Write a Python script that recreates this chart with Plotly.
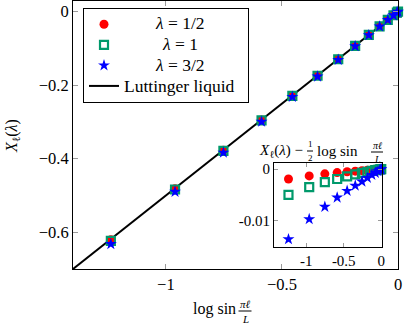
import plotly.graph_objects as go

# ---- data ----
log_sin = [-1.2369, -0.9605, -0.7521, -0.5878, -0.4551, -0.3466, -0.2575,
           -0.1846, -0.1257, -0.0792, -0.0440, -0.0194, -0.0048, 0.0]

X_half = [-0.6204, -0.4816, -0.3770, -0.2946, -0.2281, -0.1737, -0.1290,
          -0.0925, -0.0630, -0.0397, -0.0221, -0.0097, -0.0024, 0.0]
X_one = [-0.6235, -0.4838, -0.3786, -0.2958, -0.2290, -0.1743, -0.1295,
         -0.0928, -0.0632, -0.0398, -0.0221, -0.0098, -0.0024, 0.0]
X_three_half = [-0.6321, -0.4900, -0.3834, -0.2994, -0.2318, -0.1765, -0.1312,
                -0.0940, -0.0640, -0.0403, -0.0224, -0.0099, -0.0025, 0.0]

dev_half = [-0.0019, -0.0013, -0.0009, -0.00066, -0.0005, -0.00038, -0.00028,
            -0.0002, -0.00014, -0.00009, -0.00005, -0.00002, -0.000005, 0.0]
dev_one = [-0.0050, -0.0035, -0.0025, -0.0019, -0.0014, -0.0010, -0.00072,
           -0.0005, -0.00034, -0.0002, -0.00011, -0.00005, -0.00001, 0.0]
dev_three_half = [-0.0136, -0.0097, -0.0073, -0.0055, -0.0042, -0.0032, -0.0024,
                  -0.0017, -0.0011, -0.0007, -0.0004, -0.00018, -0.00005, 0.0]

lutt_x = [-1.4, 0.0]
lutt_y = [-0.7, 0.0]

main_xticks = [-1, -0.5, 0]
main_yticks = [0, -0.2, -0.4, -0.6]
inset_xticks = [-1, -0.5, 0]
inset_xticktext = ["-1", "-0.5", "0"]
inset_yticks = [0, -0.01]
inset_yticktext = ["0", "-0.01"]

legend_names = ["<i>λ</i> = 1/2", "<i>λ</i> = 1", "<i>λ</i> = 3/2", "Luttinger liquid"]

# ---- style ----
FONT = "Liberation Serif"
RED = "#ff0000"
GREEN = "#00996b"
BLUE = "#0000ff"
W, H = 407, 325
L, R, T, B = 73, 9, 1, 56
PW, PH = W - L - R, H - T - B


def PX(px):
    return (px - L) / PW


def PY(py):
    return (H - B - py) / PH


NB = "\u00a0"
PAD = NB * 35   # invisible legend entry text: sets the legend frame width

fig = go.Figure()

# legend entries carry the symbols and the frame; the labels are annotations
fig.add_trace(go.Scatter(x=lutt_x, y=lutt_y, mode="lines",
                         line=dict(color="black", width=2),
                         name=PAD, legendrank=4, cliponaxis=True))
fig.add_trace(go.Scatter(x=log_sin, y=X_half, mode="markers",
                         marker=dict(symbol="circle", size=9, color=RED),
                         name=NB, legendrank=1, cliponaxis=False))
fig.add_trace(go.Scatter(x=log_sin, y=X_one, mode="markers",
                         marker=dict(symbol="square-open", size=8, color=GREEN,
                                     line=dict(width=2.2, color=GREEN)),
                         name=NB, legendrank=2, cliponaxis=False))
fig.add_trace(go.Scatter(x=log_sin, y=X_three_half, mode="markers",
                         marker=dict(symbol="star", size=9, color=BLUE, line=dict(width=0)),
                         name=NB, legendrank=3, cliponaxis=False))

# inset
fig.add_trace(go.Scatter(x=log_sin, y=dev_half, mode="markers", xaxis="x2", yaxis="y2",
                         marker=dict(symbol="circle", size=9, color=RED),
                         showlegend=False, cliponaxis=False))
fig.add_trace(go.Scatter(x=log_sin, y=dev_one, mode="markers", xaxis="x2", yaxis="y2",
                         marker=dict(symbol="square-open", size=8, color=GREEN,
                                     line=dict(width=2.2, color=GREEN)),
                         showlegend=False, cliponaxis=False))
fig.add_trace(go.Scatter(x=log_sin, y=dev_three_half, mode="markers", xaxis="x2", yaxis="y2",
                         marker=dict(symbol="star", size=9, color=BLUE, line=dict(width=0)),
                         showlegend=False, cliponaxis=False))

axis_common = dict(showgrid=False, zeroline=False, showline=True, linecolor="black",
                   linewidth=1, mirror="ticks", ticks="inside", ticklen=5,
                   tickcolor="#9a9a9a", tickwidth=1, automargin=False,
                   tickfont=dict(family=FONT, size=16.5, color="black"))

inset_x0, inset_x1 = PX(274), PX(382)
inset_y0, inset_y1 = PY(247), PY(163)

fig.update_layout(
    width=W, height=H,
    margin=dict(l=L, r=R, t=T, b=B, autoexpand=False),
    paper_bgcolor="white", plot_bgcolor="white",
    font=dict(family=FONT, size=16, color="black"),
    xaxis=dict(range=[-1.4, 0.0], tickvals=main_xticks, domain=[0, 1], **axis_common),
    yaxis=dict(range=[-0.70, 0.029], tickvals=main_yticks, domain=[0, 1], **axis_common),
    xaxis2=dict(range=[-1.43, 0.01], tickvals=inset_xticks, ticktext=inset_xticktext,
                domain=[inset_x0, inset_x1], anchor="y2",
                **{**axis_common, "tickfont": dict(family=FONT, size=15, color="black"), "ticklen": 4}),
    yaxis2=dict(range=[-0.0151, 0.0012], tickvals=inset_yticks, ticktext=inset_yticktext,
                domain=[inset_y0, inset_y1], anchor="x2",
                **{**axis_common, "tickfont": dict(family=FONT, size=15, color="black"), "ticklen": 4}),
    showlegend=True,
    legend=dict(x=PX(83), y=PY(8), xanchor="left", yanchor="top",
                bgcolor="rgba(0,0,0,0)", bordercolor="black", borderwidth=1,
                font=dict(family=FONT, size=13.5, color="black"),
                tracegroupgap=0, itemwidth=30),
)

shapes = []
annotations = []


def text(px, py, s, size, xanchor="center", yanchor="middle", angle=0):
    annotations.append(dict(x=PX(px), y=PY(py), xref="paper", yref="paper", text=s,
                            showarrow=False, xanchor=xanchor, yanchor=yanchor,
                            textangle=angle, font=dict(family=FONT, size=size, color="black"),
                            borderpad=0))


def frac(cx, bar_y, num, den, size, half_w):
    text(cx, bar_y - 0.5, num, size, yanchor="bottom")
    text(cx, bar_y + 0.5, den, size, yanchor="top")
    shapes.append(dict(type="line", xref="paper", yref="paper",
                       x0=PX(cx - half_w), x1=PX(cx + half_w), y0=PY(bar_y), y1=PY(bar_y),
                       line=dict(color="black", width=1), layer="above"))


# legend labels
text(180, 23, legend_names[0], 17.5)
text(180, 44, legend_names[1], 17.5)
text(180, 65, legend_names[2], 17.5)
text(123, 86, legend_names[3], 17.5, xanchor="left")
# y axis title
text(12, 136, "<i>X</i><sub>ℓ</sub>(<i>λ</i>)", 16, angle=-90)
# x axis title
text(237, 309, "log sin", 16, xanchor="right")
frac(245, 311, "<i>πℓ</i>", "<i>L</i>", 11, 6.5)
# inset title
text(304, 151, "<i>X</i><sub>ℓ</sub>(<i>λ</i>) −", 15, xanchor="right")
frac(310, 151, "1", "2", 9, 3)
text(316, 151, "log sin", 15, xanchor="left")
frac(377, 152, "<i>πℓ</i>", "<i>L</i>", 10, 6)

fig.update_layout(shapes=shapes, annotations=annotations)

fig.write_html("out.html", config={"displayModeBar": False},
               post_script="document.body.style.margin='0px';"
                           "document.body.style.overflow='hidden';")
